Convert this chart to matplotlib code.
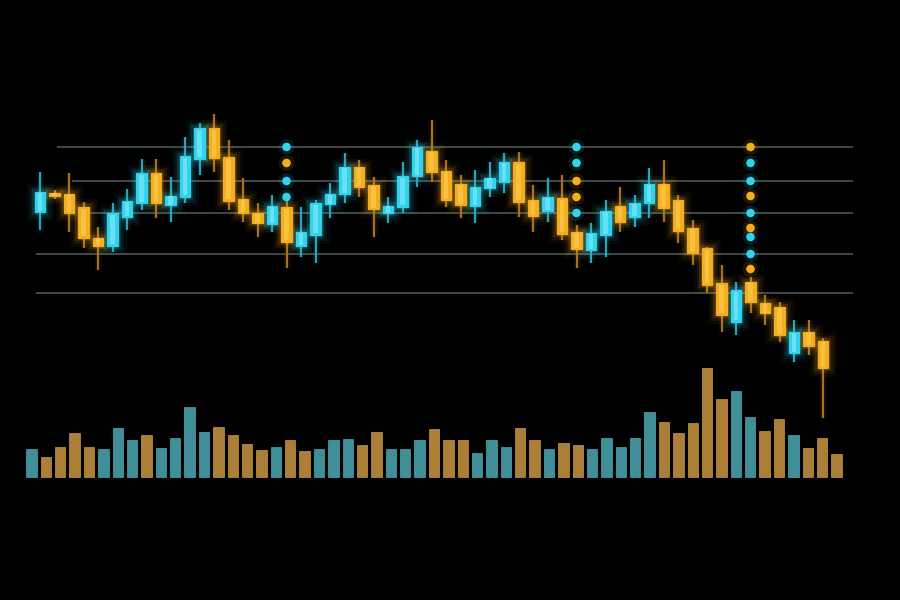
import numpy as np
import matplotlib
matplotlib.use("Agg")
import matplotlib.pyplot as plt

# candle data (price units)
opens = [57.6, 61.4, 61.2, 58.6, 52.4, 50.8, 56.6, 59.4, 65.4, 59.0,
         60.6, 68.2, 74.4, 68.6, 60.2, 57.4, 55.2, 58.6, 50.8, 53.0,
         59.2, 61.2, 66.6, 63.0, 57.4, 58.6, 64.8, 69.8, 65.8, 63.2,
         58.8, 62.4, 63.6, 67.6, 60.0, 57.8, 60.4, 53.6, 50.0, 53.0,
         58.8, 56.6, 59.4, 63.2, 60.0, 54.4, 50.4, 43.4, 35.6, 43.6,
         39.4, 38.6, 29.4, 33.6, 31.8]
highs = [65.6, 62.0, 65.4, 59.6, 54.6, 59.4, 62.2, 68.2, 68.2, 64.6,
         72.6, 75.4, 77.2, 72.0, 64.4, 59.4, 61.0, 60.0, 58.6, 60.0,
         63.4, 69.4, 68.0, 64.6, 60.6, 67.6, 72.0, 76.0, 68.0, 65.0,
         66.0, 67.6, 69.4, 69.6, 63.0, 64.4, 65.0, 55.0, 55.4, 60.0,
         62.6, 61.0, 66.4, 68.0, 61.0, 56.0, 50.6, 47.0, 43.6, 44.6,
         41.0, 39.6, 36.0, 36.0, 32.4]
lows = [54.0, 60.2, 53.6, 50.4, 46.0, 49.6, 54.0, 58.0, 56.4, 55.6,
        59.4, 65.0, 65.6, 58.0, 55.6, 52.6, 53.6, 46.4, 48.6, 47.4,
        56.4, 59.4, 60.6, 52.6, 55.4, 57.4, 62.6, 63.6, 58.6, 56.4,
        55.4, 60.6, 61.4, 56.6, 53.6, 55.6, 52.0, 46.4, 47.4, 48.6,
        53.6, 54.6, 56.4, 55.6, 51.4, 47.0, 41.4, 33.6, 33.0, 37.4,
        35.0, 31.6, 27.6, 29.0, 16.4]
closes = [61.6, 60.8, 57.4, 52.4, 50.8, 57.4, 59.8, 65.4, 59.4, 60.8,
          68.8, 74.4, 68.4, 59.8, 57.4, 55.4, 58.8, 51.6, 53.6, 59.4,
          61.2, 66.6, 62.6, 58.2, 58.8, 64.8, 70.6, 65.6, 60.0, 59.0,
          62.6, 64.4, 67.6, 59.6, 56.8, 60.6, 53.2, 50.2, 53.4, 57.8,
          55.6, 59.4, 63.2, 58.4, 53.8, 49.4, 43.0, 37.0, 42.0, 39.6,
          37.4, 33.0, 33.6, 30.8, 26.4]

# reference levels and dotted markers
levels = [70.6, 63.8, 57.4, 49.2, 41.4]
level_start = [1.2, 2.2, 2.9, -0.3, -0.3]
level_end = 56.1

dot_cols = [17, 37, 49]
dot_prices = [[70.6, 67.4, 63.8, 60.6],
              [70.6, 67.4, 63.8, 60.6, 57.4],
              [70.6, 67.4, 63.8, 60.8, 57.4, 54.4, 52.6, 49.2, 46.2]]
dot_kinds = [["u", "d", "u", "u"],
             ["u", "u", "d", "d", "u"],
             ["d", "u", "u", "d", "u", "d", "u", "u", "d"]]

# volume
volumes = [14, 10, 15, 22, 15, 14, 24.5, 18.5, 21, 14.5,
           19.5, 35, 22.5, 25, 21, 16.5, 13.5, 15, 18.5, 13,
           14, 18.5, 19, 16, 22.5, 14, 14, 18.5, 24, 18.5,
           18.5, 12, 18.5, 15, 24.5, 18.5, 14, 17, 16, 14,
           19.5, 15, 19.5, 32.5, 27.5, 22, 27, 54.5, 39, 43,
           30, 23, 29, 21, 14.5, 19.5, 11.5]
vol_kinds = list("udddduuudu" "uuuddddudd" "uuudduuudd"
                 "duuudduddu" "uuuudddddu" "udduddd")

UP = "#33d3ec"
DOWN = "#f4ad1f"
UP_LIGHT = "#a6f6ff"
DOWN_LIGHT = "#ffdb6a"
UP_WICK = "#2aa3bb"
DOWN_WICK = "#a8701a"
VOL_UP = "#4aa3ae"
VOL_DOWN = "#c4923f"

fig = plt.figure(figsize=(9, 6), dpi=100, facecolor="black")
ax = fig.add_axes([0, 0, 1, 1])
ax.set_facecolor("black")
axv = fig.add_axes([0, 0, 1, 1])
axv.patch.set_alpha(0)

# volume bars
xv = np.arange(len(volumes))
vcol = [VOL_UP if k == "u" else VOL_DOWN for k in vol_kinds]
axv.bar(xv, volumes, width=0.72, color=vcol, alpha=0.88,
        edgecolor=vcol, linewidth=0.6, zorder=2)
axv.set_xlim(-2.19, 60.42)
axv.set_ylim(-61.5, 238.5)
axv.axis("off")

# level lines
ax.hlines(levels, level_start, level_end, color="#4a5659", lw=1.2, zorder=1)

o = np.array(opens)
c = np.array(closes)
h = np.array(highs)
l = np.array(lows)
x = np.arange(len(o))
up = c >= o
cols = np.where(up, UP, DOWN)
light = np.where(up, UP_LIGHT, DOWN_LIGHT)
wick = np.where(up, UP_WICK, DOWN_WICK)
bottom = np.minimum(o, c)
height = np.maximum(np.abs(c - o), 0.6)

# wicks with glow
for lw, a in [(5, 0.08), (1.6, 1.0)]:
    ax.vlines(x, l, h, colors=wick, lw=lw, alpha=a, zorder=3)

# body glow
for lw, a in [(12, 0.05), (8, 0.08), (4.5, 0.14)]:
    ax.bar(x, height, bottom=bottom, width=0.74, facecolor="none",
           edgecolor=cols, linewidth=lw, alpha=a, zorder=4)

ax.bar(x, height, bottom=bottom, width=0.74, color=cols,
       edgecolor=cols, linewidth=1.0, zorder=5)
ax.bar(x, height * 0.9, bottom=bottom + height * 0.05, width=0.34,
       color=light, alpha=0.45, linewidth=0, zorder=6)

# dotted marker columns
for col, ps, ks in zip(dot_cols, dot_prices, dot_kinds):
    dc = [UP if k == "u" else DOWN for k in ks]
    ax.scatter([col] * len(ps), ps, s=130, c=dc, alpha=0.12,
               linewidths=0, zorder=6)
    ax.scatter([col] * len(ps), ps, s=38, c=dc, linewidths=0, zorder=7)

ax.set_xlim(-2.76, 59.31)
ax.set_ylim(-20, 100)
ax.axis("off")

fig.savefig("out.png", dpi=100, facecolor="black")
